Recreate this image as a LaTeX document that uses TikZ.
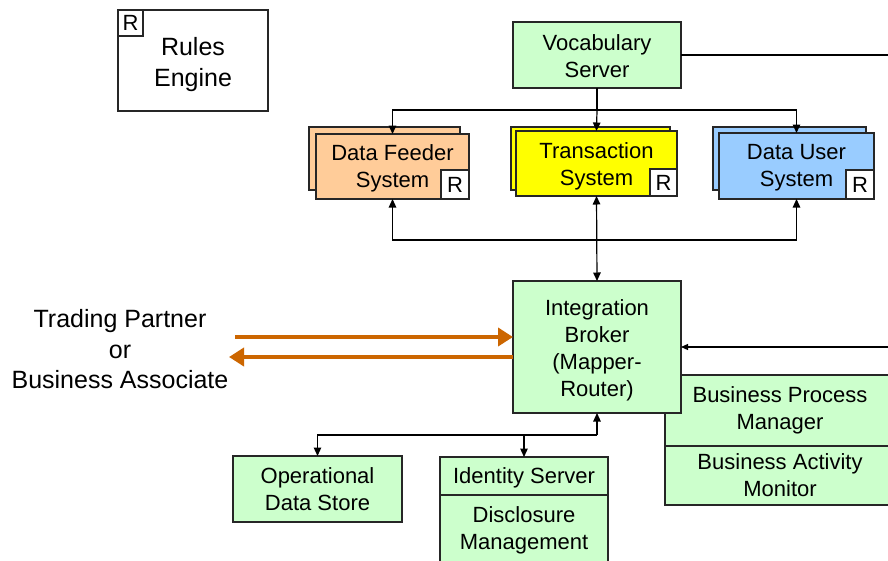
\documentclass[tikz,border=0pt]{standalone}
\usepackage{fontspec}
\setmainfont{Liberation Sans}
\usetikzlibrary{arrows.meta}
\definecolor{paleGreen}{HTML}{CCFFCC}
\definecolor{peach}{HTML}{FFCC99}
\definecolor{sysYellow}{HTML}{FFFF00}
\definecolor{skyBlue}{HTML}{99CCFF}
\definecolor{linkOrange}{HTML}{CC6600}
\begin{document}
\begin{tikzpicture}[x=1pt,y=-1pt,
  every node/.style={inner sep=0pt, outer sep=0pt},
  blk/.style={draw=black!85, line width=1.2pt, align=center, font=\fontsize{22}{27}\selectfont},
  grn/.style={blk, fill=paleGreen},
  txt/.style={align=center, font=\fontsize{22}{27}\selectfont},
  rtag/.style={draw=black!85, line width=1.2pt, fill=white, font=\fontsize{22}{22}\selectfont},
  conn/.style={draw=black, line width=1.2pt},
  >={Triangle[length=8.5pt,width=7.5pt]},
  bigarrow/.style={draw=linkOrange, line width=4pt, -{Triangle[length=15pt,width=18pt]}}]

\useasboundingbox (0,0) rectangle (888,560);
\clip (0,0) rectangle (888,560);
\fill[white] (0,0) rectangle (888,560);

% rules engine legend
\node[blk, fill=white, minimum width=150pt, minimum height=101pt] (rules) at (193,60.5) {};
\node[txt, font=\fontsize{25}{31}\selectfont] (rulesText) at ([yshift=-4pt]rules.center) {Rules\\Engine};
\node[rtag, minimum width=25pt, minimum height=26pt, anchor=north west] (rulesR) at (rules.north west) {R};

% vocabulary server
\node[grn, minimum width=168pt, minimum height=66pt] (vocab) at (597,55) {};
\node[txt] (vocabText) at ([yshift=-1.5pt]vocab.center) {Vocabulary\\Server};

% stacked system boxes
\node[blk, fill=peach, minimum width=151pt, minimum height=63pt] (feederB) at (384.5,158.5) {};
\node[blk, fill=peach, minimum width=153pt, minimum height=65pt] (feeder) at (392.5,166.5) {};
\node[txt] (feederText) at ([yshift=-2pt]feeder.center) {Data Feeder\\System};
\node[rtag, minimum width=28pt, minimum height=29pt, anchor=south east] (feederR) at (feeder.south east) {R};

\node[blk, fill=sysYellow, minimum width=159pt, minimum height=63pt] (transB) at (590.5,158.5) {};
\node[blk, fill=sysYellow, minimum width=161pt, minimum height=65pt] (trans) at (596.5,163.5) {};
\node[txt] (transText) at ([yshift=-3pt]trans.center) {Transaction\\System};
\node[rtag, minimum width=27pt, minimum height=27pt, anchor=south east] (transR) at (trans.south east) {R};

\node[blk, fill=skyBlue, minimum width=153pt, minimum height=63pt] (userB) at (789.5,158.5) {};
\node[blk, fill=skyBlue, minimum width=155pt, minimum height=66pt] (user) at (796.5,166) {};
\node[txt] (userText) at ([yshift=-2pt]user.center) {Data User\\System};
\node[rtag, minimum width=28pt, minimum height=29pt, anchor=south east] (userR) at (user.south east) {R};

% process manager / activity monitor (behind the broker)
\node[grn, minimum width=230pt, minimum height=71pt] (bpm) at (780,410.5) {Business Process\\Manager};
\node[grn, minimum width=230pt, minimum height=59pt] (bam) at (780,475.5) {Business Activity\\Monitor};

% integration broker
\node[grn, minimum width=168pt, minimum height=132pt] (broker) at (597,347) {};
\node[txt] (brokerText) at ([yshift=-3pt]broker.center) {Integration\\Broker\\(Mapper-\\Router)};

% lower stores
\node[grn, minimum width=169pt, minimum height=66pt] (ods) at (317.5,489) {Operational\\Data Store};
\node[grn, minimum width=168pt, minimum height=38pt] (ident) at (524,476) {};
\node[txt] (identText) at ([yshift=-2pt]ident.center) {Identity Server};
\node[grn, minimum width=168pt, minimum height=70pt] (disc) at (524,530) {Disclosure\\Management};

% external party
\node[align=center, font=\fontsize{25}{30.5}\selectfont] (tp) at (120,349.5) {Trading Partner\\or\\Business Associate};

% vocabulary fan-out
\coordinate (topJoin) at (597,110);
\draw[conn] (vocab.south) -- (topJoin);
\draw[conn,->] (topJoin) -| (feeder.north);
\draw[conn,->] (topJoin) -- (trans.north);
\draw[conn,->] (topJoin) -| (user.north);

% broker to systems
\coordinate (midJoin) at (597,240);
\draw[conn,->] (midJoin) -| (feeder.south);
\draw[conn,->] (midJoin) -| (user.south);
\draw[conn,<->] (trans.south) -- (broker.north);

% right-hand links
\coordinate (vocabEdge) at (895,55);
\coordinate (brokerEdge) at (895,347);
\draw[conn] (vocab.east) -- (vocabEdge);
\draw[conn,-{Triangle[length=7pt,width=6pt]}] (brokerEdge) -- (broker.east);

% broker to stores
\coordinate (lowJoin) at (597,435);
\draw[conn,->] (lowJoin) -- (broker.south);
\draw[conn,->] (lowJoin) -| (ods.north);
\draw[conn,->] (lowJoin) -| (ident.north);

% partner exchange
\coordinate (inStart) at (235,337);
\coordinate (outEnd) at (229,357);
\draw[bigarrow] (inStart) -- (inStart -| broker.west);
\draw[bigarrow] (outEnd -| broker.west) -- (outEnd);
\end{tikzpicture}
\end{document}
